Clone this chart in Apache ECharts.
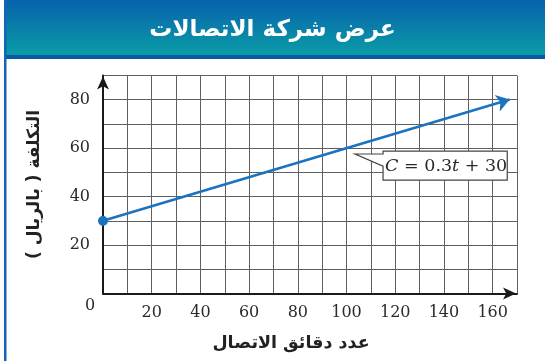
<!DOCTYPE html>
<html>
<head>
<meta charset="utf-8">
<script src="https://cdn.jsdelivr.net/npm/echarts@6/dist/echarts.min.js"></script>
<style>
  html, body { margin: 0; padding: 0; background: #fff; }
  #chart { width: 545px; height: 361px; }
</style>
</head>
<body>
<div id="chart"></div>
<script>
// عرض شركة الاتصالات: C = 0.3t + 30
const titleText = 'عرض شركة الاتصالات';
const xName = 'عدد دقائق الاتصال';
const yName = 'التكلفة ( بالريال )';

const xTickLabels = [20, 40, 60, 80, 100, 120, 140, 160];
const yTickLabels = [20, 40, 60, 80];

// the line: start point and end of the arrow
const tValues = [0, 167];
const cValues = [30, 80.1];

// callout for the equation (in data units)
const calloutTip = [103.5, 57.6];
const calloutBox = [115, 46.8, 166, 58.8]; // tMin, cMin, tMax, cMax
const calloutNeck = [57.6, 52.6];          // pointer joins box at these C values

const lineColor = '#1a73bf';
const serif = '"DejaVu Serif", "Liberation Serif", serif';
const arabic = '"DejaVu Sans", sans-serif';

const chart = echarts.init(document.getElementById('chart'));

chart.setOption({
  animation: false,
  title: {
    text: titleText,
    left: 'center',
    top: 14,
    textStyle: { color: '#fff', fontSize: 23, fontWeight: 'bold', fontFamily: arabic }
  },
  graphic: [
    {
      id: 'band', type: 'rect', z: -1,
      shape: { x: 4, y: 0, width: 541, height: 55 },
      style: {
        fill: new echarts.graphic.LinearGradient(0, 0, 0, 1, [
          { offset: 0, color: '#0862ad' },
          { offset: 1, color: '#0a9ca6' }
        ])
      }
    },
    { id: 'bandEdge', type: 'rect', z: -1, shape: { x: 4, y: 55, width: 541, height: 4 }, style: { fill: '#0b56a6' } },
    { id: 'leftEdge', type: 'rect', z: -1, shape: { x: 4, y: 0, width: 2.5, height: 361 }, style: { fill: '#1466b4' } }
  ],
  grid: { left: 103, right: 28, top: 75.5, bottom: 67.5 },
  xAxis: {
    type: 'value',
    min: 0, max: 170, interval: 10,
    name: xName,
    nameLocation: 'middle',
    nameGap: 41,
    nameTextStyle: {
      fontFamily: arabic, fontSize: 17.5, fontWeight: 'bold', color: '#222',
      padding: [0, 38, 0, 0]
    },
    axisLine: {
      onZero: false,
      lineStyle: { color: '#1a1a1a', width: 2 },
      symbol: ['none', 'arrow'], symbolSize: [9, 13], symbolOffset: [0, -1]
    },
    axisTick: { show: false },
    axisLabel: {
      margin: 11,
      fontFamily: serif, fontSize: 16, color: '#2a2a2a',
      showMinLabel: true, showMaxLabel: true,
      formatter: v => xTickLabels.includes(v) ? String(v) : ''
    },
    splitLine: { show: true, lineStyle: { color: '#5f5f5f', width: 1 } }
  },
  yAxis: {
    type: 'value',
    min: 0, max: 90, interval: 10,
    name: yName,
    nameLocation: 'middle',
    nameGap: 60,
    nameTextStyle: { fontFamily: arabic, fontSize: 17, fontWeight: 'bold', color: '#222' },
    axisLine: {
      show: true, onZero: false,
      lineStyle: { color: '#1a1a1a', width: 2 },
      symbol: ['none', 'arrow'], symbolSize: [9, 13], symbolOffset: [0, -1]
    },
    axisTick: { show: false },
    axisLabel: {
      margin: 13,
      fontFamily: serif, fontSize: 16, color: '#2a2a2a',
      formatter: v => yTickLabels.includes(v) ? String(v) : ''
    },
    splitLine: { show: true, lineStyle: { color: '#5f5f5f', width: 1 } }
  },
  series: [
    {
      type: 'lines',
      coordinateSystem: 'cartesian2d',
      z: 5,
      clip: false,
      symbol: ['circle', 'arrow'],
      symbolSize: [10, 13],
      lineStyle: { color: lineColor, width: 2.6, opacity: 1, curveness: 0 },
      data: [{ coords: tValues.map((t, i) => [t, cValues[i]]) }]
    },
    {
      type: 'custom',
      z: 6,
      clip: false,
      data: [calloutTip],
      renderItem: function (params, api) {
        const tip = api.coord(calloutTip);
        const tl = api.coord([calloutBox[0], calloutBox[3]]);
        const br = api.coord([calloutBox[2], calloutBox[1]]);
        const n1 = api.coord([calloutBox[0], calloutNeck[0]]);
        const n2 = api.coord([calloutBox[0], calloutNeck[1]]);
        const pts = [
          tip, [n1[0], tip[1]], [tl[0], tl[1]], [br[0], tl[1]],
          [br[0], br[1]], [tl[0], br[1]], [n2[0], n2[1]]
        ];
        return {
          type: 'group',
          children: [
            {
              type: 'polygon',
              shape: { points: pts },
              style: { fill: '#fff', stroke: '#444', lineWidth: 1.2 }
            },
            {
              type: 'text',
              x: (tl[0] + br[0]) / 2 + 1,
              y: (tl[1] + br[1]) / 2 + 1,
              style: {
                text: '{i|C} = 0.3{i|t} + 30',
                align: 'center', verticalAlign: 'middle',
                fontFamily: serif, fontSize: 17.5, fill: '#2a2a2a',
                rich: { i: { fontStyle: 'italic', fontFamily: serif, fontSize: 17.5 } }
              }
            }
          ]
        };
      }
    }
  ]
});

// corner "0" label, placed below-left of the origin
const origin = chart.convertToPixel({ gridIndex: 0 }, [0, 0]);
chart.setOption({
  graphic: [
    {
      id: 'zero', type: 'text',
      x: origin[0] - 13, y: origin[1] + 12,
      style: {
        text: '0', align: 'center', verticalAlign: 'middle',
        fontFamily: serif, fontSize: 16, fill: '#2a2a2a'
      }
    }
  ]
});
</script>
</body>
</html>
